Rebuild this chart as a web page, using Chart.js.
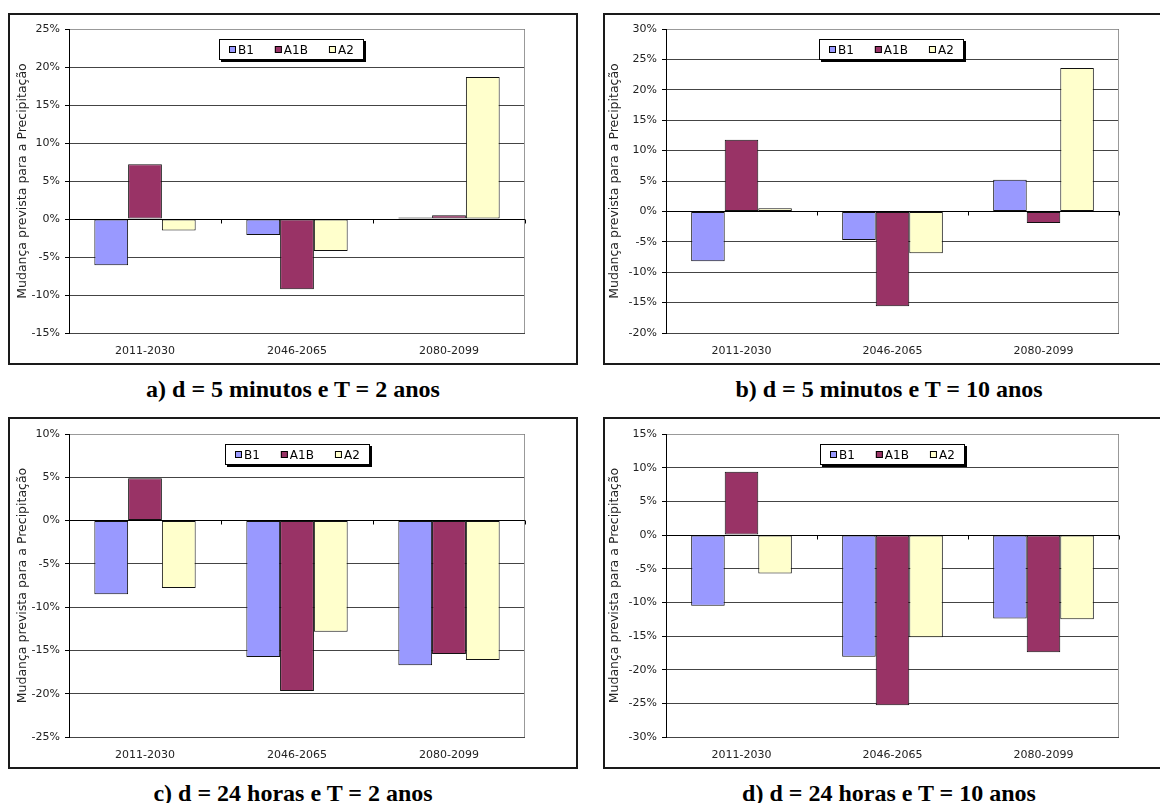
<!DOCTYPE html>
<html>
<head>
<meta charset="utf-8">
<script src="https://cdn.jsdelivr.net/npm/chart.js@4.4.0/dist/chart.umd.min.js"></script>
<style>
    body { margin: 0; background: #fff; width: 1160px; height: 803px; overflow: hidden; position: relative; }
    .box { position: absolute; border: 2px solid #1a1a1a; background: #fff; }
    .box canvas { position: absolute; left: 0; top: 0; }
    .cap { position: absolute; width: 400px; text-align: center; white-space: nowrap;
           font-family: "Liberation Serif", "Times New Roman", serif; font-weight: bold; font-size: 24px; line-height: 24px; }
</style>
</head>
<body>

<div class="box" style="left:8px;top:13px;width:566px;height:348px;"><canvas id="chartA" width="566" height="348"></canvas></div>
<div class="box" style="left:603px;top:13px;width:556px;height:348px;"><canvas id="chartB" width="556" height="348"></canvas></div>
<div class="box" style="left:8px;top:417px;width:566px;height:348px;"><canvas id="chartC" width="566" height="348"></canvas></div>
<div class="box" style="left:603px;top:417px;width:556px;height:348px;"><canvas id="chartD" width="556" height="348"></canvas></div>

<div class="cap" id="capA" style="left:93px;top:377px;"></div>
<div class="cap" id="capB" style="left:689px;top:377px;"></div>
<div class="cap" id="capC" style="left:93px;top:781px;"></div>
<div class="cap" id="capD" style="left:689px;top:781px;"></div>

<script>
//categories and series shared by the 4 panels
const categories = ['2011-2030', '2046-2065', '2080-2099'];
const seriesNames = ['B1', 'A1B', 'A2'];
const seriesColors = ['#9999FF', '#993366', '#FFFFCC'];
const axisTitle = 'Mudança prevista para a Precipitação';

//a) d = 5 minutos e T = 2 anos  (% change)
const aB1 = [-6.1, -2.1, 0.2];
const aA1B = [7.2, -9.25, 0.5];
const aA2 = [-1.5, -4.2, 18.7];

//b) d = 5 minutos e T = 10 anos
const bB1 = [-8.2, -4.7, 5.2];
const bA1B = [11.8, -15.6, -1.9];
const bA2 = [0.5, -6.9, 23.6];

//c) d = 24 horas e T = 2 anos
const cB1 = [-8.5, -15.75, -16.7];
const cA1B = [4.9, -19.7, -15.4];
const cA2 = [-7.8, -12.85, -16.1];

//d) d = 24 horas e T = 10 anos
const dB1 = [-10.5, -18.1, -12.4];
const dA1B = [9.4, -25.3, -17.4];
const dA2 = [-5.7, -15.2, -12.5];

//y axis ranges (min, max) per panel
const rangeA = [-15, 25];
const rangeB = [-20, 30];
const rangeC = [-25, 10];
const rangeD = [-30, 15];

const captions = [
    'a) d = 5 minutos e T = 2 anos',
    'b) d = 5 minutos e T = 10 anos',
    'c) d = 24 horas e T = 2 anos',
    'd) d = 24 horas e T = 10 anos'
];

const tickFont = { family: 'DejaVu Sans', size: 11 };
const titleFont = { family: 'DejaVu Sans', size: 12.5 };

//excel style extras: gray plot border, zero axis with ticks, boxed legend with shadow
const excelLook = {
    id: 'excelLook',
    beforeDatasetsDraw(chart) {
        const { ctx, chartArea: ca } = chart;
        ctx.save();
        ctx.strokeStyle = '#999';
        ctx.lineWidth = 1;
        ctx.beginPath();
        ctx.moveTo(ca.left + 1, Math.floor(ca.top) + 0.5);
        ctx.lineTo(Math.floor(ca.right) - 0.5, Math.floor(ca.top) + 0.5);
        ctx.lineTo(Math.floor(ca.right) - 0.5, Math.floor(ca.bottom));
        ctx.stroke();
        ctx.restore();
    },
    afterDatasetsDraw(chart, args, opts) {
        const { ctx, chartArea: ca } = chart;
        const x = chart.scales.x, y = chart.scales.y;
        ctx.save();

        //zero line + little tick marks between categories
        const zy = Math.floor(y.getPixelForValue(0)) + 0.5;
        ctx.strokeStyle = '#000';
        ctx.lineWidth = 1;
        ctx.beginPath();
        ctx.moveTo(ca.left, zy);
        ctx.lineTo(ca.right, zy);
        for (let i = 0; i <= categories.length; i++) {
            const px = Math.floor(x.getPixelForValue(i - 0.5)) + 0.5;
            ctx.moveTo(px, zy);
            ctx.lineTo(px, zy + 4);
        }
        ctx.stroke();

        //legend
        ctx.font = '12px "DejaVu Sans"';
        const items = chart.data.datasets.map(ds => ({
            label: ds.label, color: ds.backgroundColor, w: ctx.measureText(ds.label).width
        }));
        const sq = 7, gap = 2, spacing = 21, padX = 10, h = 21;
        let total = padX * 2 + spacing * (items.length - 1);
        items.forEach(it => { total += sq + gap + it.w; });
        total = Math.round(total);
        const bx = Math.round((ca.left + ca.right) / 2 - total / 2 + (opts.shift || 0));
        const by = Math.round(ca.top + 10);

        ctx.fillStyle = '#000';
        ctx.fillRect(bx + 2, by + 2, total, h);
        ctx.fillStyle = '#fff';
        ctx.fillRect(bx, by, total, h);
        ctx.strokeStyle = '#000';
        ctx.strokeRect(bx + 0.5, by + 0.5, total - 1, h - 1);

        let lx = bx + padX;
        const my = by + h / 2;
        ctx.textBaseline = 'middle';
        items.forEach(it => {
            const sy = Math.round(my - sq / 2);
            ctx.fillStyle = it.color;
            ctx.fillRect(lx, sy, sq, sq);
            ctx.strokeStyle = '#000';
            ctx.strokeRect(lx + 0.5, sy + 0.5, sq - 1, sq - 1);
            ctx.fillStyle = '#000';
            ctx.fillText(it.label, lx + sq + gap, my + 1);
            lx += sq + gap + it.w + spacing;
        });
        ctx.restore();
    }
};

function makeChart(id, series, range, axisWidth, titlePad, padTop, padRight, legendShift) {
    return new Chart(document.getElementById(id), {
        type: 'bar',
        data: {
            labels: categories,
            datasets: series.map((values, i) => ({
                label: seriesNames[i],
                data: values,
                backgroundColor: seriesColors[i],
                borderColor: '#111',
                borderWidth: 1,
                borderSkipped: false
            }))
        },
        options: {
            responsive: false,
            animation: false,
            layout: { padding: { left: 0, top: padTop, right: padRight, bottom: 0 } },
            datasets: { bar: { categoryPercentage: 2 / 3, barPercentage: 1 } },
            plugins: {
                legend: { display: false },
                tooltip: { enabled: false },
                excelLook: { shift: legendShift }
            },
            scales: {
                x: {
                    grid: { display: false, drawTicks: false },
                    border: { display: false },
                    ticks: { padding: 12, color: '#222', font: tickFont, maxRotation: 0 },
                    afterFit: s => { s.height = 30; }
                },
                y: {
                    min: range[0],
                    max: range[1],
                    ticks: { stepSize: 5, padding: 5, color: '#222', font: tickFont, callback: v => v + '%' },
                    grid: { color: '#444', lineWidth: 1, tickColor: '#000', tickLength: 4, tickWidth: 1 },
                    border: { display: true, color: '#000', width: 1 },
                    title: { display: true, text: axisTitle, color: '#222', font: titleFont, padding: { top: titlePad, bottom: 0 } },
                    afterFit: s => { s.width = axisWidth; }
                }
            }
        },
        plugins: [excelLook]
    });
}

makeChart('chartA', [aB1, aA1B, aA2], rangeA, 59, 5, 14, 51, -6);
makeChart('chartB', [bB1, bA1B, bA2], rangeB, 61, 2, 14, 42, -1);
makeChart('chartC', [cB1, cA1B, cA2], rangeC, 59, 5, 15, 51, 0);
makeChart('chartD', [dB1, dA1B, dA2], rangeD, 61, 2, 15, 42, 0);

//captions under each panel
['capA', 'capB', 'capC', 'capD'].forEach((id, i) => {
    document.getElementById(id).textContent = captions[i];
});
</script>
</body>
</html>
